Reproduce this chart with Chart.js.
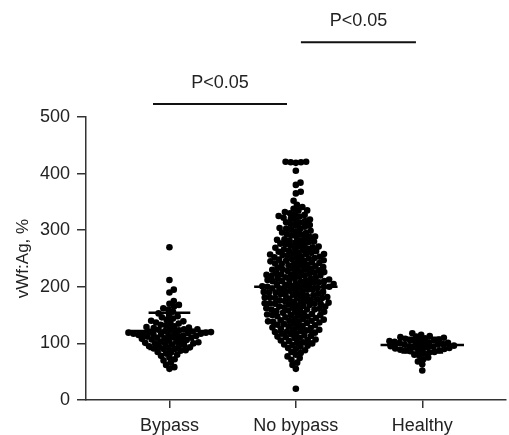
<!DOCTYPE html>
<html lang="en">
<head>
<meta charset="UTF-8">
<title>vWf:Ag</title>
<script src="https://cdn.jsdelivr.net/npm/chart.js@4.4.1/dist/chart.umd.min.js"></script>
<style>
  body { margin: 0; background: #fff; }
  #wrap { width: 509px; height: 435px; position: relative; }
</style>
</head>
<body>
<div id="wrap"><canvas id="chart"></canvas></div>
<script>
// groups and values (vWf:Ag, %)
const groups = ['Bypass', 'No bypass', 'Healthy'];

const bypassVals = [270, 212, 195, 190, 175, 170, 168, 165, 162, 160, 156, 153, 150, 148, 146, 144, 142, 140,
  139, 137, 136, 135, 133, 132, 130, 129, 128, 127, 126, 125, 125, 124, 123, 122, 121, 121, 120, 120, 119, 119,
  118, 118, 117, 117, 116, 116, 115, 115, 114, 113, 113, 112, 111, 110, 110, 109, 108, 107, 106, 105, 105, 104,
  103, 102, 101, 100, 100, 99, 98, 97, 96, 95, 94, 93, 92, 91, 90, 90, 88, 87, 85, 84, 82, 80, 78, 75, 72, 70,
  66, 62, 58, 55];

const noBypassVals = [419, 420, 420, 421, 421, 405, 384, 380, 368, 365, 352, 345, 341, 338, 335, 335, 332, 330,
  328, 327, 325, 324, 322, 321, 319, 318, 316, 314, 313, 311, 309, 308, 306, 304, 303, 302, 301,
  299, 297, 296, 295, 293, 292, 291, 289, 288, 287, 286, 284, 283, 282, 281, 280, 279, 278, 276, 275, 274, 273, 272, 271, 270,
  269, 268, 267, 266, 265, 264, 263, 262, 261, 260, 259, 258, 258, 257, 256, 255, 254, 253, 252, 252, 251, 250,
  249, 248, 247, 246, 246, 245, 244, 243, 242, 241, 241, 240, 239, 238, 237, 236, 235, 234, 233, 232, 232, 231, 230, 230,
  229, 228, 227, 226, 225, 225, 224, 223, 222, 221, 221, 220, 220,
  219, 218, 217, 216, 215, 215, 214, 213, 212, 211, 211, 210, 210, 210,
  209, 208, 207, 206, 205, 205, 204, 203, 202, 202, 201, 200, 200, 200,
  199, 198, 197, 197, 196, 195, 195, 194, 193, 192, 191, 191, 190, 190,
  189, 188, 187, 186, 185, 185, 184, 183, 182, 181, 181, 180, 180, 180,
  179, 178, 177, 176, 175, 175, 174, 173, 172, 171, 171, 170, 170, 170,
  169, 168, 167, 166, 165, 165, 164, 163, 162, 161, 160, 160, 160,
  159, 158, 157, 156, 155, 154, 153, 152, 151, 150, 150, 150,
  149, 148, 147, 146, 145, 144, 143, 142, 141, 140, 140,
  139, 138, 138, 137, 136, 135, 134, 133, 132, 131, 130,
  129, 128, 127, 126, 125, 124, 123, 122, 121, 120, 119, 118, 117, 116, 114, 113, 112, 111, 110,
  109, 107, 106, 105, 104, 102, 101, 100, 98, 97, 96, 94, 92, 90, 88, 85, 83, 80, 77, 74, 71, 66, 62, 55, 20];

const healthyVals = [118, 115, 113, 112, 111, 110, 109, 108, 107, 106, 105, 105, 104, 103, 103, 102, 101, 101,
  100, 99, 98, 98, 97, 96, 95, 95, 94, 93, 93, 92, 91, 91, 90, 89, 88, 88, 87, 86, 85, 84,
  82, 80, 78, 75, 72, 68, 63, 52];

// mean and SD as drawn
const meanVals = [122, 200, 97];
const sdVals = [32, 80, 13];

const yTicks = [0, 100, 200, 300, 400, 500];

// significance brackets
const bracketFrom = [-0.13, 1.04];
const bracketTo = [0.93, 1.95];
const bracketY = [523, 632];
const bracketText = ['P<0.05', 'P<0.05'];

const FONT = "'Liberation Sans', Arial, sans-serif";
const INK = '#222';

// beeswarm offsets (pixels -> category units)
const PX_Y = 283 / 500;
const PX_X = 127.4;
const DOT = 5.2;

function swarm(vals, cat) {
  const placed = [];
  const out = [];
  const sorted = vals.slice().sort((a, b) => a - b);
  let flip = 1;
  for (const v of sorted) {
    const y = v * PX_Y;
    const blocked = [];
    for (const p of placed) {
      const dy = Math.abs(p.y - y);
      if (dy < DOT) {
        const w = Math.sqrt(DOT * DOT - dy * dy);
        blocked.push([p.x - w, p.x + w]);
      }
    }
    const cands = [0];
    blocked.forEach(b => cands.push(b[0], b[1]));
    cands.sort((a, b) => (Math.abs(a) - Math.abs(b)) || (flip * (a - b)));
    let x = 0;
    for (const c of cands) {
      if (!blocked.some(b => c > b[0] + 1e-6 && c < b[1] - 1e-6)) { x = c; break; }
    }
    flip = -flip;
    placed.push({ x: x, y: y });
    out.push({ x: cat + x / PX_X, y: v });
  }
  return out;
}

const allVals = [bypassVals, noBypassVals, healthyVals];

const datasets = allVals.map((vals, i) => ({
  type: 'scatter',
  data: swarm(vals, i),
  pointRadius: 3.3,
  pointHoverRadius: 3.3,
  backgroundColor: '#000',
  borderWidth: 0,
  order: 2
}));

// mean and SD lines
meanVals.forEach((m, i) => {
  const s = sdVals[i];
  const segs = [
    [{ x: i - 0.33, y: m }, { x: i + 0.33, y: m }],
    [{ x: i - 0.165, y: m + s }, { x: i + 0.165, y: m + s }],
    [{ x: i - 0.165, y: m - s }, { x: i + 0.165, y: m - s }],
    [{ x: i, y: m - s }, { x: i, y: m + s }]
  ];
  segs.forEach(seg => datasets.push({
    type: 'line',
    data: seg,
    borderColor: '#000',
    borderWidth: 2.5,
    pointRadius: 0,
    fill: false,
    order: 1
  }));
});

const bracketPlugin = {
  id: 'brackets',
  afterDraw(chart) {
    const ctx = chart.ctx;
    const xs = chart.scales.x, ys = chart.scales.y;
    ctx.save();
    for (let i = 0; i < bracketText.length; i++) {
      const x1 = xs.getPixelForValue(bracketFrom[i]);
      const x2 = xs.getPixelForValue(bracketTo[i]);
      const y = ys.getPixelForValue(bracketY[i]);
      ctx.strokeStyle = '#111';
      ctx.lineWidth = 2;
      ctx.beginPath();
      ctx.moveTo(x1, y);
      ctx.lineTo(x2, y);
      ctx.stroke();
      ctx.fillStyle = INK;
      ctx.font = '18px ' + FONT;
      ctx.textAlign = 'center';
      ctx.textBaseline = 'alphabetic';
      ctx.fillText(bracketText[i], (x1 + x2) / 2, y - 16);
    }
    ctx.restore();
  }
};

new Chart(document.getElementById('chart'), {
  data: { datasets: datasets },
  options: {
    responsive: true,
    maintainAspectRatio: false,
    animation: false,
    layout: { padding: { top: 117, left: 0, right: 0, bottom: 0 } },
    plugins: { legend: { display: false }, tooltip: { enabled: false } },
    scales: {
      x: {
        type: 'linear',
        min: -0.66,
        max: 2.66,
        afterBuildTicks: s => { s.ticks = groups.map((g, i) => ({ value: i })); },
        afterFit: s => { s.height = 35; },
        ticks: {
          callback: v => groups[v],
          font: { family: FONT, size: 18 },
          color: INK,
          padding: 7,
          maxRotation: 0
        },
        grid: { drawOnChartArea: false, drawTicks: true, tickLength: 8, color: '#333', lineWidth: 1.5 },
        border: { display: true, color: '#333', width: 1.5 }
      },
      y: {
        min: 0,
        max: 500,
        afterBuildTicks: s => { s.ticks = yTicks.map(v => ({ value: v })); },
        afterFit: s => { s.width = 86; },
        ticks: {
          font: { family: FONT, size: 18 },
          color: INK,
          padding: 7
        },
        title: {
          display: true,
          text: 'vWf:Ag, %',
          font: { family: FONT, size: 17 },
          color: INK,
          padding: { top: 13, bottom: 0 }
        },
        grid: { drawOnChartArea: false, drawTicks: true, tickLength: 9, color: '#333', lineWidth: 1.5 },
        border: { display: true, color: '#333', width: 1.5 }
      }
    }
  },
  plugins: [bracketPlugin]
});
</script>
</body>
</html>
